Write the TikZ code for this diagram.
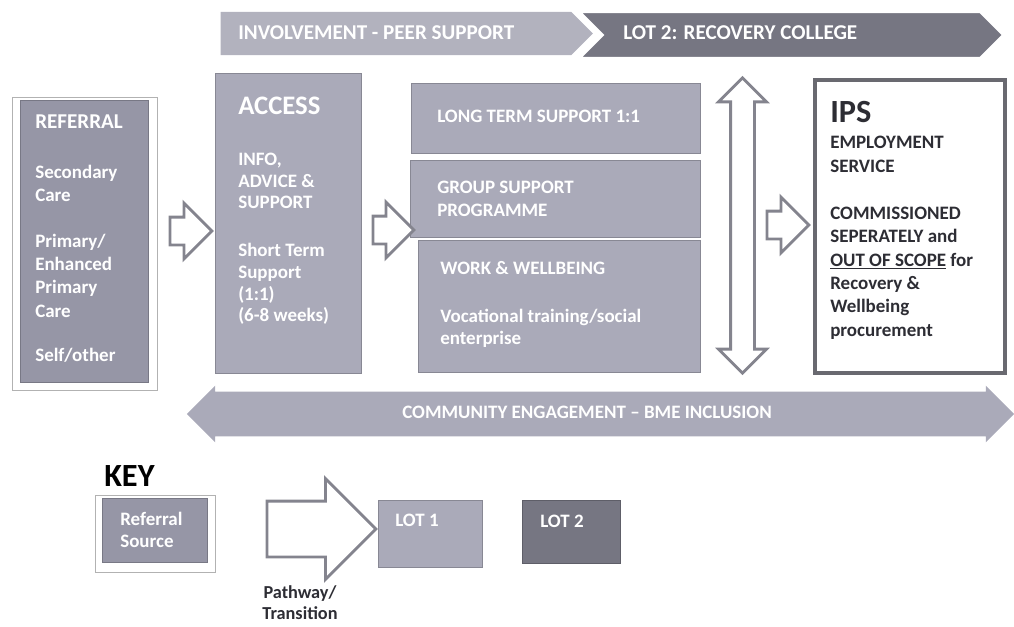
\documentclass[tikz,border=0pt]{standalone}
\usepackage{fontspec}
\setmainfont{Carlito}
\usepackage{tikz}
\usetikzlibrary{shapes.arrows, shapes.symbols, fit, calc}

\definecolor{lotone}{RGB}{170,170,185}
\definecolor{lottwo}{RGB}{118,118,130}
\definecolor{refgray}{RGB}{150,150,166}
\definecolor{bannerone}{RGB}{178,178,190}
\definecolor{arrowgray}{RGB}{132,132,142}
\definecolor{ipsgray}{RGB}{105,105,112}
\definecolor{darktext}{RGB}{45,45,52}

\begin{document}
\begin{tikzpicture}[x=0.025cm, y=-0.025cm]

% Canvas
\useasboundingbox (0,0) rectangle (1014,626);

% Box styles
\tikzset{lA/.style={fill=lotone, draw=lotone!80!black, line width=0.5pt, inner sep=0pt}}
\tikzset{lB/.style={lA, fill=lottwo, draw=lottwo!80!black}}
\tikzset{rS/.style={lA, fill=refgray, draw=refgray!80!black}}
\tikzset{rF/.style={fill=white, draw=black!30, line width=0.6pt, inner sep=0pt}}

% Text styles
\tikzset{wT/.style={text=white, font=\bfseries\fontsize{13.5}{16.5}\selectfont, align=left, inner sep=0pt, anchor=north west}}
\tikzset{wH/.style={wT}}
\tikzset{dT/.style={wH, text=darktext}}

% Arrow styles
\tikzset{hA/.style={single arrow, draw=arrowgray, fill=white, line width=2pt, inner xsep=0pt, shape border rotate=0}}
\tikzset{bN/.style={signal, inner sep=0pt, signal pointer angle=90}}

% Top banners
\node (inv) [bN, signal to=east, fill=bannerone, minimum width=9.3cm, minimum height=1.075cm] at (396,33.5) {};
\node (lot2b) [bN, signal from=west, signal to=east, fill=lottwo, draw=white, line width=1.5pt, minimum width=10.575cm, minimum height=1.15cm] at (791.5,35) {};
\node (invT) [wH, anchor=west, font=\bfseries\fontsize{15}{16}\selectfont] at (238,33) {INVOLVEMENT - PEER SUPPORT};
\node (lot2T) [wH, anchor=west, font=\bfseries\fontsize{15}{16}\selectfont] at (623,33) {LOT 2: RECOVERY COLLEGE};

% Referral
\node (refF) [rF, fit={(12,97) (157,390)}] {};
\node (ref) [rS, fit={(20,100) (148,382)}] {};
\node (refH) [wT, font=\bfseries\fontsize{15}{17}\selectfont] at (35,115) {REFERRAL};
\node (refT) [wT] at (35,165) {Secondary\\Care\\[16pt]Primary/\\Enhanced\\Primary\\Care\\[15pt]Self/other};

% Access
\node (acc) [lA, fit={(215,73) (361,373)}] {};
\node (accH) [wH, font=\bfseries\fontsize{19}{20}\selectfont] at (238,97) {ACCESS};
\node (accT) [wT, font=\bfseries\fontsize{13.5}{15.3}\selectfont] at (238,153) {INFO,\\ADVICE \&\\SUPPORT\\[19pt]Short Term\\Support\\(1:1)\\(6-8 weeks)};

% Lot 1 services
\node (lts) [lA, fit={(411,83) (700,153)}] {};
\node (ltsT) [wH] at (437,110) {LONG TERM SUPPORT 1:1};
\node (gsp) [lA, fit={(410,160) (700,237)}] {};
\node (gspT) [wH] at (437,181) {GROUP SUPPORT\\PROGRAMME};
\node (ww) [lA, fit={(418,240) (700,372)}] {};
\node (wwH) [wH] at (440,261) {WORK \& WELLBEING};
\node (wwT) [wT, font=\bfseries\fontsize{13.5}{15.8}\selectfont] at (440,309) {Vocational training/social\\enterprise};

% IPS
\node (ips) [fill=white, draw=ipsgray, line width=2.2pt, inner sep=0pt, fit={(815,80) (1005,373)}] {};
\node (ipsH) [dT, font=\bfseries\fontsize{23}{24}\selectfont] at (830,101) {IPS};
\node (ipsT) [dT, font=\bfseries\fontsize{13.5}{16.6}\selectfont] at (830,136) {EMPLOYMENT\\SERVICE\\[17pt]COMMISSIONED\\SEPERATELY and\\\underline{OUT OF SCOPE} for\\Recovery \&\\Wellbeing\\procurement};

% Pathway arrows
\node (a1) [hA, minimum height=1.05cm, inner ysep=0.3125cm, single arrow head extend=0.35cm] at (184,231) {};
\node (a2) [hA, minimum height=1.025cm, inner ysep=0.3125cm, single arrow head extend=0.35cm] at (386.5,230) {};
\node (a3) [hA, minimum height=1.05cm, inner ysep=0.3125cm, single arrow head extend=0.35cm] at (781,225) {};
\node (vA) [double arrow, rotate=90, draw=arrowgray, fill=white, line width=2pt, inner xsep=0pt, inner ysep=0.2625cm, double arrow head extend=0.3cm, minimum height=7.375cm] at (742.5,225.5) {};

% Community engagement
\node (ce) [double arrow, fill=lotone, inner xsep=0pt, inner ysep=0.55cm, double arrow head extend=0.15cm, minimum height=20.675cm] at (600.5,414) {};
\node (ceT) [wT, anchor=center] at (587,412) {COMMUNITY ENGAGEMENT -- BME INCLUSION};

% Key
\node (key) [anchor=west, inner sep=0pt, font=\bfseries\fontsize{23}{24}\selectfont] at (104,476) {KEY};
\node (kRF) [rF, fit={(95,495) (215,572)}] {};
\node (kR) [rS, fit={(102,498) (207,562)}] {};
\node (kRT) [wT, font=\bfseries\fontsize{13.5}{15.6}\selectfont] at (120,512) {Referral\\Source};
\node (kP) [hA, minimum height=2.725cm, inner ysep=0.6625cm, single arrow head extend=0.5625cm] at (307.5,529) {};
\node (kPT) [dT, anchor=north, align=center, font=\bfseries\fontsize{13}{15.5}\selectfont] at (300,585) {Pathway/\\Transition};
\node (k1) [lA, fit={(378,500) (482,567)}] {};
\node (k1T) [wT, anchor=west] at (395,520) {LOT 1};
\node (k2) [lB, fit={(522,500) (620,563)}] {};
\node (k2T) [wT, anchor=west] at (540,521) {LOT 2};

\end{tikzpicture}
\end{document}
